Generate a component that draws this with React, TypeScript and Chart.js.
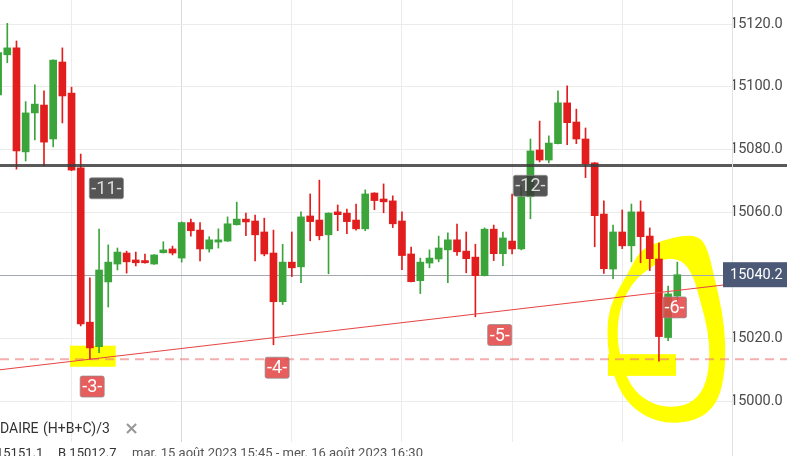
import React, { useEffect, useRef } from 'react';
import { Chart, registerables } from 'chart.js';

Chart.register(...registerables);

// ---- candle data (15-minute candles) ----
const candleOpen = [
  15097.4, 15110.2, 15112.4, 15079.3, 15091.7, 15094.2, 15083.4, 15107.9, 15098.0, 15074.2,
  15025.1, 15017.3, 15037.9, 15043.6, 15047.1, 15044.9, 15044.7, 15043.6, 15047.2, 15048.4,
  15045.5, 15056.8, 15054.4, 15048.4, 15050.6, 15050.9, 15056.1, 15057.9, 15057.3, 15053.8,
  15047.1, 15031.6, 15044.2, 15042.7, 15058.9, 15057.6, 15052.9, 15060.2, 15059.8, 15057.6,
  15054.8, 15066.2, 15064.3, 15063.7, 15057.3, 15046.8, 15038.3, 15043.9, 15045.2, 15048.1,
  15051.3, 15047.7, 15045.8, 15039.9, 15054.7, 15046.9, 15050.9, 15048.4, 15065.0, 15079.9,
  15076.7, 15081.9, 15094.9, 15088.8, 15083.4, 15075.8, 15059.5, 15042.0, 15053.8, 15049.4,
  15060.2, 15052.5, 15045.2, 15020.2, 15033.4,
];
const candleHigh = [
  15111.5, 15120.2, 15114.6, 15095.3, 15100.6, 15098.7, 15108.6, 15112.4, 15099.9, 15078.6,
  15039.2, 15054.7, 15049.7, 15048.7, 15047.7, 15047.4, 15046.8, 15046.6, 15050.7, 15049.3,
  15057.0, 15057.9, 15056.8, 15052.3, 15054.8, 15058.6, 15063.3, 15059.8, 15059.2, 15058.2,
  15054.4, 15049.9, 15053.8, 15060.2, 15065.9, 15070.3, 15059.9, 15062.4, 15061.1, 15062.7,
  15067.2, 15066.3, 15069.1, 15065.3, 15060.2, 15049.0, 15045.5, 15048.1, 15052.5, 15053.5,
  15056.3, 15053.8, 15049.9, 15055.1, 15056.0, 15053.8, 15065.9, 15068.2, 15083.4, 15089.1,
  15084.4, 15098.7, 15100.3, 15092.9, 15086.9, 15075.9, 15063.7, 15056.0, 15060.8, 15062.7,
  15063.7, 15055.1, 15050.3, 15036.6, 15044.2,
];
const candleLow = [
  15095.5, 15107.7, 15073.8, 15076.4, 15083.1, 15074.9, 15080.9, 15088.5, 15073.3, 15023.9,
  15013.2, 15015.4, 15029.9, 15041.7, 15040.7, 15043.0, 15043.9, 15043.5, 15047.1, 15046.5,
  15044.2, 15052.5, 15044.6, 15047.4, 15048.7, 15050.8, 15056.0, 15052.6, 15044.6, 15046.2,
  15017.9, 15030.7, 15039.6, 15037.7, 15051.0, 15051.3, 15040.5, 15054.2, 15053.3, 15054.4,
  15054.2, 15060.9, 15059.9, 15055.2, 15041.8, 15037.9, 15034.2, 15042.4, 15044.3, 15037.7,
  15046.3, 15040.8, 15026.8, 15039.8, 15044.7, 15043.1, 15046.8, 15048.1, 15058.0, 15076.1,
  15075.8, 15081.8, 15081.6, 15081.9, 15071.1, 15049.1, 15040.6, 15038.9, 15048.5, 15044.3,
  15044.0, 15041.5, 15012.7, 15019.2, 15032.1,
];
const candleClose = [
  15110.9, 15112.4, 15079.6, 15091.7, 15094.5, 15082.4, 15108.5, 15097.1, 15073.5, 15024.5,
  15016.9, 15041.7, 15044.2, 15047.4, 15044.3, 15044.0, 15044.0, 15046.5, 15048.1, 15047.1,
  15056.8, 15054.2, 15048.4, 15051.3, 15051.3, 15056.4, 15057.9, 15057.0, 15052.9, 15046.8,
  15031.6, 15044.2, 15042.4, 15058.6, 15057.1, 15052.6, 15059.8, 15059.3, 15057.1, 15054.8,
  15065.9, 15063.8, 15063.4, 15056.4, 15046.3, 15038.0, 15044.2, 15045.5, 15048.7, 15051.3,
  15047.5, 15045.3, 15039.9, 15054.7, 15046.9, 15051.9, 15048.4, 15065.0, 15079.6, 15076.7,
  15082.1, 15094.9, 15088.6, 15083.4, 15075.5, 15059.0, 15042.1, 15053.8, 15049.4, 15060.2,
  15052.3, 15045.3, 15020.5, 15034.1, 15040.2,
];

const yTicks = [15000, 15020, 15040, 15060, 15080, 15100, 15120];
const xGridIndex = [8, 20, 32, 44, 56, 68, 80];
const xMajorGrid = [20];

const lastPrice = 15040.2;
const resistanceLevel = 15075.0;
const supportLevel = 15013.3;
const trendIndex = [10, 74];
const trendValue = [15013.3, 15035.2];

const markerLabels = ['-11-', '-12-', '-3-', '-4-', '-5-', '-6-'];
const markerIndex = [11.8, 58, 10.25, 30.4, 54.65, 73.7];
const markerValue = [15067.7, 15068.5, 15004.6, 15010.6, 15021.0, 15029.8];
const markerDark = [true, true, false, false, false, false];

// hand-drawn yellow highlight, in (candle index, price)
const highlightOuter = [
  [69.94, 15048.1], [72.12, 15050.9], [74.84, 15052.8], [76.47, 15052.2], [77.35, 15048.1],
  [78.11, 15038.5], [78.87, 15029.0], [79.31, 15017.8], [79.09, 15006.7], [78.22, 14998.7],
  [76.26, 14994.0], [73.21, 14992.7], [70.48, 14994.9], [68.3, 15000.3], [66.99, 15008.3],
  [66.34, 15017.8], [66.45, 15027.4], [67.21, 15033.7], [68.52, 15040.1],
];
const highlightInner = [
  [71.03, 15042.3], [72.66, 15045.5], [74.51, 15044.9], [75.71, 15040.1], [76.47, 15032.1],
  [77.35, 15022.6], [77.56, 15013.1], [77.02, 15004.1], [75.39, 14999.0], [73.0, 14997.8],
  [70.81, 14999.7], [69.06, 15004.1], [67.97, 15011.5], [67.43, 15020.1], [67.65, 15028.3],
  [68.52, 15034.7], [69.61, 15039.2],
];
const highlightBoxes = [
  [7.83, 15017.6, 12.81, 15010.9],
  [66.45, 15014.9, 73.86, 15008.0],
];

const legendName = 'DAIRE';
const legendFormula = '(H+B+C)/3';
const legendClose = '×';
const infoHigh = '15151.1';
const infoLow = 'B 15012.7';
const infoRange = 'mar. 15 août 2023 15:45 - mer. 16 août 2023 16:30';

const GREEN = '#3ba53b';
const RED = '#e21d1d';
const FONT = 'Roboto, "Liberation Sans", Arial, sans-serif';

function smoothPath(ctx: CanvasRenderingContext2D, pts: number[][]) {
  const n = pts.length;
  const mid = (a: number[], b: number[]) => [(a[0] + b[0]) / 2, (a[1] + b[1]) / 2];
  const m0 = mid(pts[n - 1], pts[0]);
  ctx.moveTo(m0[0], m0[1]);
  for (let k = 0; k < n; k++) {
    const p = pts[k];
    const q = pts[(k + 1) % n];
    const m = mid(p, q);
    ctx.quadraticCurveTo(p[0], p[1], m[0], m[1]);
  }
  ctx.closePath();
}

function roundRect(ctx: CanvasRenderingContext2D, x: number, y: number, w: number, h: number, r: number) {
  ctx.beginPath();
  ctx.moveTo(x + r, y);
  ctx.lineTo(x + w - r, y);
  ctx.quadraticCurveTo(x + w, y, x + w, y + r);
  ctx.lineTo(x + w, y + h - r);
  ctx.quadraticCurveTo(x + w, y + h, x + w - r, y + h);
  ctx.lineTo(x + r, y + h);
  ctx.quadraticCurveTo(x, y + h, x, y + h - r);
  ctx.lineTo(x, y + r);
  ctx.quadraticCurveTo(x, y, x + r, y);
  ctx.closePath();
}

export default function App() {
  const ref = useRef<HTMLCanvasElement>(null);

  useEffect(() => {
    document.body.style.margin = '0';
    const canvas = ref.current;
    if (!canvas) return;
    const idx = candleOpen.map((_, i) => i);
    const colors = idx.map((i) => (candleClose[i] >= candleOpen[i] ? GREEN : RED));

    const overlay = {
      id: 'overlay',
      beforeDatasetsDraw(chart: any) {
        const ctx: CanvasRenderingContext2D = chart.ctx;
        const xs = chart.scales.x;
        const ys = chart.scales.y;
        const P = (p: number[]) => [xs.getPixelForValue(p[0]), ys.getPixelForValue(p[1])];
        ctx.save();
        ctx.fillStyle = '#ffff00';
        highlightBoxes.forEach((b) => {
          const a = P([b[0], b[1]]);
          const c = P([b[2], b[3]]);
          ctx.fillRect(a[0], a[1], c[0] - a[0], c[1] - a[1]);
        });
        ctx.beginPath();
        smoothPath(ctx, highlightOuter.map(P));
        smoothPath(ctx, highlightInner.map(P));
        ctx.fill('evenodd');

        // last price line
        const yl = Math.round(ys.getPixelForValue(lastPrice)) + 0.5;
        ctx.strokeStyle = '#a3a7ae';
        ctx.lineWidth = 1;
        ctx.beginPath();
        ctx.moveTo(0, yl);
        ctx.lineTo(chart.chartArea.right - 9, yl);
        ctx.stroke();

        // dashed support line
        const ysup = ys.getPixelForValue(supportLevel);
        ctx.strokeStyle = 'rgba(238,120,120,0.6)';
        ctx.lineWidth = 2;
        ctx.setLineDash([9, 6]);
        ctx.beginPath();
        ctx.moveTo(0, ysup);
        ctx.lineTo(chart.width, ysup);
        ctx.stroke();
        ctx.restore();
      },
      afterDatasetsDraw(chart: any) {
        const ctx: CanvasRenderingContext2D = chart.ctx;
        const xs = chart.scales.x;
        const ys = chart.scales.y;
        ctx.save();
        // resistance line
        const yr = ys.getPixelForValue(resistanceLevel);
        ctx.strokeStyle = 'rgba(60,60,60,0.85)';
        ctx.lineWidth = 3;
        ctx.beginPath();
        ctx.moveTo(0, yr);
        ctx.lineTo(chart.width, yr);
        ctx.stroke();

        // trend line
        const slope = (trendValue[1] - trendValue[0]) / (trendIndex[1] - trendIndex[0]);
        const iA = xs.getValueForPixel(0);
        const iB = xs.getValueForPixel(chart.chartArea.right);
        const vA = trendValue[0] + slope * (iA - trendIndex[0]);
        const vB = trendValue[0] + slope * (iB - trendIndex[0]);
        ctx.strokeStyle = '#e64545';
        ctx.lineWidth = 1.2;
        ctx.beginPath();
        ctx.moveTo(xs.getPixelForValue(iA), ys.getPixelForValue(vA));
        ctx.lineTo(xs.getPixelForValue(iB), ys.getPixelForValue(vB));
        ctx.stroke();
        ctx.restore();
      },
      afterDraw(chart: any) {
        const ctx: CanvasRenderingContext2D = chart.ctx;
        const xs = chart.scales.x;
        const ys = chart.scales.y;
        const right = chart.chartArea.right;
        ctx.save();
        // axis border
        ctx.strokeStyle = '#e2e2e2';
        ctx.lineWidth = 1;
        ctx.beginPath();
        ctx.moveTo(right + 0.5, 0);
        ctx.lineTo(right + 0.5, chart.height);
        ctx.stroke();

        // last price box
        const yl = ys.getPixelForValue(lastPrice);
        ctx.fillStyle = '#4b5976';
        ctx.fillRect(right - 9, yl - 12.5, chart.width - right + 9, 25);
        ctx.fillStyle = '#ffffff';
        ctx.font = `14.5px ${FONT}`;
        ctx.textBaseline = 'middle';
        ctx.textAlign = 'left';
        ctx.fillText(lastPrice.toFixed(1), right - 2, yl + 1);

        // markers
        ctx.font = `18px ${FONT}`;
        ctx.textAlign = 'center';
        markerLabels.forEach((label, k) => {
          const cx = xs.getPixelForValue(markerIndex[k]);
          const cy = ys.getPixelForValue(markerValue[k]);
          const w = ctx.measureText(label).width + 4;
          const h = 21;
          roundRect(ctx, cx - w / 2, cy - h / 2, w, h, 2);
          ctx.fillStyle = markerDark[k] ? 'rgba(55,55,55,0.85)' : 'rgba(226,72,72,0.88)';
          ctx.fill();
          ctx.strokeStyle = 'rgba(140,140,140,0.7)';
          ctx.lineWidth = 1;
          ctx.stroke();
          ctx.fillStyle = markerDark[k] ? '#dcdcdc' : '#ffffff';
          ctx.fillText(label, cx, cy + 1);
        });

        // bottom legend text
        ctx.textAlign = 'left';
        ctx.textBaseline = 'alphabetic';
        ctx.fillStyle = '#333333';
        ctx.font = `14px ${FONT}`;
        ctx.fillText(legendName, 0, 433);
        ctx.fillText(legendFormula, 43, 433);
        ctx.fillStyle = '#9a9a9a';
        ctx.font = `bold 18px "DejaVu Sans", sans-serif`;
        ctx.fillText(legendClose, 124, 434);
        ctx.fillStyle = '#333333';
        ctx.font = `13px ${FONT}`;
        ctx.fillText(infoHigh, -4, 457);
        ctx.fillText(infoLow, 58, 457);
        ctx.fillStyle = '#555555';
        ctx.fillText(infoRange, 132, 457);
        ctx.restore();
      },
    };

    const chart = new Chart(canvas, {
      type: 'bar',
      data: {
        datasets: [
          {
            label: 'body',
            data: idx.map((i) => ({ x: i, y: [candleOpen[i], candleClose[i]] })) as any,
            backgroundColor: colors,
            barThickness: 7,
            grouped: false,
            minBarLength: 1,
            borderWidth: 0,
          } as any,
          {
            label: 'wick',
            data: idx.map((i) => ({ x: i, y: [candleLow[i], candleHigh[i]] })) as any,
            backgroundColor: colors,
            barThickness: 1,
            grouped: false,
            minBarLength: 1,
            borderWidth: 0,
          } as any,
        ],
      },
      options: {
        animation: false,
        responsive: false,
        maintainAspectRatio: false,
        layout: { padding: { left: 0, right: 0, top: 0, bottom: 14 } },
        plugins: { legend: { display: false }, tooltip: { enabled: false } },
        scales: {
          x: {
            type: 'linear',
            min: 0.205,
            max: 79.96,
            offset: false,
            grid: {
              offset: false,
              drawTicks: false,
              lineWidth: 1,
              color: (c: any) => (c.tick && xMajorGrid.includes(c.tick.value) ? '#d9d9d9' : '#ececec'),
            },
            border: { display: false },
            ticks: { display: false },
            afterBuildTicks: (s: any) => {
              s.ticks = xGridIndex.map((v) => ({ value: v }));
            },
            afterFit: (s: any) => {
              s.paddingLeft = 0;
              s.paddingRight = 0;
            },
          },
          y: {
            type: 'linear',
            position: 'right',
            min: 14986.95,
            max: 15127.64,
            grid: { drawTicks: false, color: '#ebebeb', lineWidth: 1 },
            border: { display: false },
            ticks: {
              padding: -2,
              color: '#4a4a4a',
              font: { family: FONT, size: 14.5 },
              callback: (v: any) => Number(v).toFixed(1),
            },
            afterBuildTicks: (s: any) => {
              s.ticks = yTicks.map((v) => ({ value: v }));
            },
            afterFit: (s: any) => {
              s.width = 55;
              s.paddingTop = 0;
              s.paddingBottom = 0;
            },
          },
        },
      } as any,
      plugins: [overlay],
    });
    return () => chart.destroy();
  }, []);

  return (
    <canvas
      ref={ref}
      width={787}
      height={456}
      style={{ display: 'block', position: 'fixed', left: 0, top: 0, width: 787, height: 456 }}
    />
  );
}
